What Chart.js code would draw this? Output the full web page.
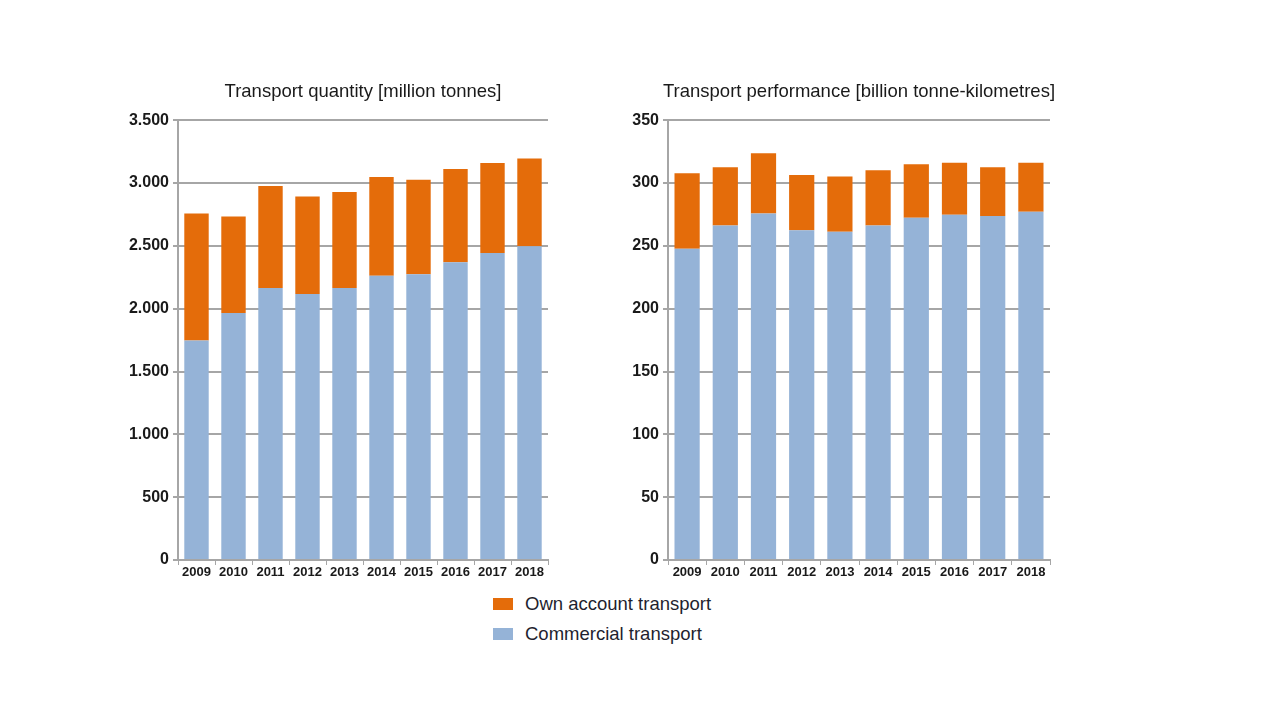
<!DOCTYPE html>
<html lang="en">
  <head>
    <meta charset="UTF-8" />
    <title>Road freight transport</title>
    <script src="https://cdn.jsdelivr.net/npm/chart.js"></script>
    <style>
      body {
        margin: 0;
        width: 1280px;
        height: 720px;
        background: #ffffff;
        position: relative;
        overflow: hidden;
        font-family: "Liberation Sans", Arial, sans-serif;
      }
      .chart {
        position: absolute;
      }
      .legend {
        position: absolute;
        left: 493px;
        top: 589px;
        font-size: 18.5px;
        color: #1f1f2f;
      }
      .legend div {
        display: flex;
        align-items: center;
        height: 30px;
      }
      .legend span.box {
        display: inline-block;
        width: 20px;
        height: 12px;
        margin-right: 12px;
      }
    </style>
  </head>
  <body>
    <div class="chart" style="left: 110px; top: 81px">
      <canvas id="qtyChart" width="506" height="503"></canvas>
    </div>
    <div class="chart" style="left: 600px; top: 81px">
      <canvas id="perfChart" width="518" height="503"></canvas>
    </div>
    <div class="legend">
      <div><span class="box" style="background: #e46c0a"></span>Own account transport</div>
      <div><span class="box" style="background: #95b3d7"></span>Commercial transport</div>
    </div>

    <script>
      const years = ["2009", "2010", "2011", "2012", "2013", "2014", "2015", "2016", "2017", "2018"];

      // Transport quantity [million tonnes]
      const qtyCommercial = [1746, 1966, 2164, 2116, 2164, 2262, 2275, 2370, 2444, 2497];
      const qtyOwn = [1011, 767, 812, 776, 765, 786, 751, 741, 715, 699];

      // Transport performance [billion tonne-kilometres]
      const perfCommercial = [247.6, 266.2, 275.8, 262.5, 261.2, 266.2, 272.3, 274.7, 273.7, 277.1];
      const perfOwn = [60.1, 46.3, 47.9, 43.9, 43.9, 43.9, 42.6, 41.5, 38.8, 39.1];

      const orange = "#e46c0a";
      const blue = "#95b3d7";
      const gridColor = "#a6a6a6";
      const font = "'Liberation Sans', Arial, sans-serif";

      // 3500 -> "3.500"
      function fmt(v) {
        return String(v).replace(/\B(?=(\d{3})+(?!\d))/g, ".");
      }

      function makeChart(id, title, commercial, own, max, step) {
        new Chart(document.getElementById(id), {
          type: "bar",
          data: {
            labels: years,
            datasets: [
              {
                label: "Commercial transport",
                data: commercial,
                backgroundColor: blue,
                categoryPercentage: 1,
                barPercentage: 0.66,
              },
              {
                label: "Own account transport",
                data: own,
                backgroundColor: orange,
                categoryPercentage: 1,
                barPercentage: 0.66,
              },
            ],
          },
          options: {
            responsive: false,
            animation: false,
            layout: { padding: 0 },
            plugins: {
              legend: { display: false },
              tooltip: { enabled: false },
              title: {
                display: true,
                text: title,
                color: "#1a1a1a",
                font: { family: font, size: 18.5, weight: "normal" },
                padding: { top: 0, bottom: 17 },
              },
            },
            scales: {
              x: {
                stacked: true,
                grid: {
                  display: true,
                  drawOnChartArea: false,
                  drawTicks: true,
                  tickLength: 5,
                  color: gridColor,
                  offset: true,
                },
                border: { color: gridColor, width: 2 },
                ticks: {
                  color: "#1a1a1a",
                  font: { family: font, size: 13, weight: "bold" },
                  padding: 0,
                  maxRotation: 0,
                },
                afterFit: (axis) => {
                  axis.height = 24;
                },
              },
              y: {
                stacked: true,
                min: 0,
                max: max,
                grid: {
                  color: gridColor,
                  lineWidth: 2,
                  drawTicks: true,
                  tickLength: 5,
                },
                border: { color: gridColor, width: 2 },
                ticks: {
                  stepSize: step,
                  color: "#1a1a1a",
                  font: { family: font, size: 16, weight: "bold" },
                  padding: 4,
                  callback: (v) => fmt(v),
                },
                afterFit: (axis) => {
                  axis.width = 68;
                },
              },
              // leerer rechter Rand, damit der Titel über dem Plot zentriert ist
              yRight: {
                position: "right",
                display: true,
                grid: { drawOnChartArea: false, drawTicks: false, display: false },
                border: { display: false },
                ticks: { display: false },
                afterFit: (axis) => {
                  axis.width = 68;
                },
              },
            },
          },
        });
      }

      makeChart("qtyChart", "Transport quantity [million tonnes]", qtyCommercial, qtyOwn, 3500, 500);
      makeChart("perfChart", "Transport performance [billion tonne-kilometres]", perfCommercial, perfOwn, 350, 50);
    </script>
  </body>
</html>
